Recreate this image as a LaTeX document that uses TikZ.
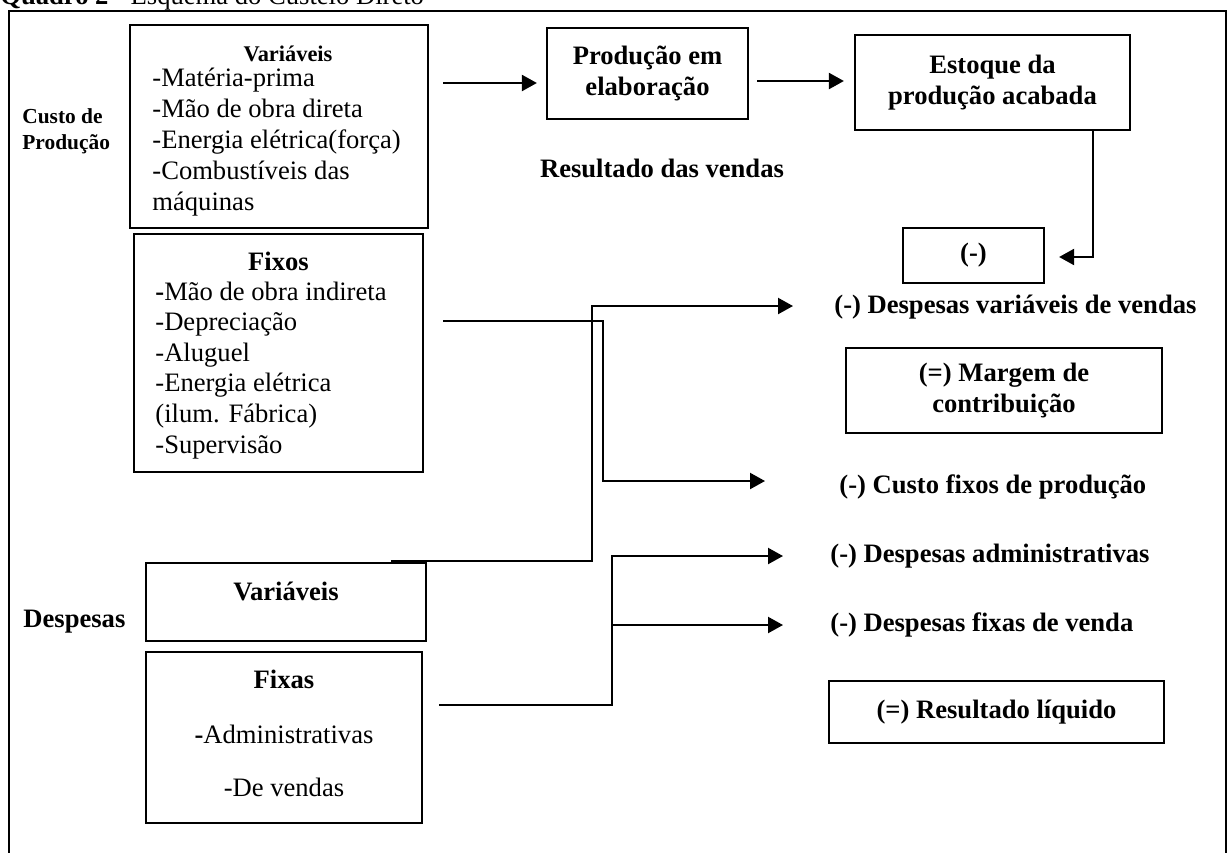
\documentclass[tikz,border=0pt]{standalone}
\usepackage{fontspec}
\setmainfont{Liberation Serif}
\usetikzlibrary{positioning, arrows.meta, calc}

\begin{document}
\begin{tikzpicture}[x=0.5pt, y=-0.5pt,
    cbox/.style={draw, line width=1.1pt, inner sep=0pt, align=center, font=\bfseries\fontsize{13.3}{15.5}\selectfont},
    txt/.style={inner sep=0pt, font=\fontsize{13.3}{15.5}\selectfont},
    btxt/.style={inner sep=0pt, font=\bfseries\fontsize{13.3}{15.5}\selectfont},
    flow/.style={line width=1.1pt, -{Triangle[length=7.5pt,width=8pt]}}]

    \useasboundingbox (0,0) rectangle (1231,852);

    % Title and frame
    \node[txt, anchor=base west] (titulo) at (0,4) {\textbf{Quadro 2} - Esquema do Custeio Direto};
    \draw[line width=1.4pt] (9,870) -- (9,11) -- (1226,11) -- (1226,870);

    % Left labels
    \node[btxt, font=\bfseries\fontsize{10.7}{13}\selectfont, align=left, anchor=west] (custo) at (22,131) {Custo de\\Produção};
    \node[btxt, anchor=west] (desp) at (23,622) {Despesas};

    % Custo de producao: variaveis
    \node[cbox, minimum width=149pt, minimum height=101.5pt] (varp) at (279,126.5) {};
    \node[btxt, font=\bfseries\fontsize{11.2}{13}\selectfont, anchor=base] (varpT) at (288,61) {Variáveis};
    \foreach \t [count=\k] in {-Matéria-prima, -Mão de obra direta, -Energia elétrica(força), -Combustíveis das, máquinas}
        \node[txt, anchor=base west] (varp\k) at (152, 55+31*\k) {\t};

    % Custo de producao: fixos
    \node[cbox, minimum width=144.5pt, minimum height=119pt] (fixos) at (278.5,353) {};
    \node[btxt, anchor=base] (fixosT) at (278.5,270) {Fixos};
    \foreach \t [count=\k] in {{\textbf{-}Mão de obra indireta}, -Depreciação, -Aluguel, -Energia elétrica, (ilum. Fábrica), -Supervisão}
        \node[txt, anchor=base west] (fixos\k) at (155, 269.4+30.6*\k) {\t};

    % Despesas
    \node[cbox, minimum width=140pt, minimum height=39pt] (dvar) at (286,602) {};
    \node[btxt, anchor=base] (dvarT) at (286,600) {Variáveis};
    \node[cbox, minimum width=138pt, minimum height=85.5pt] (fixas) at (284,737.5) {};
    \node[btxt, anchor=base] (fixasT) at (284,688) {Fixas};
    \node[txt, anchor=base] (fixas1) at (284,743) {\textbf{-}Administrativas};
    \node[txt, anchor=base] (fixas2) at (284,796) {-De vendas};

    % Producao e resultado
    \node[cbox, minimum width=100.5pt, minimum height=45.5pt] (prod) at (647.5,73.5) {Produção em\\elaboração};
    \node[cbox, minimum width=137.5pt, minimum height=47.5pt] (est) at (992.5,82.5) {Estoque da\\produção acabada};
    \node[btxt] (rv) at (662,168) {Resultado das vendas};
    \node[cbox, minimum width=70.5pt, minimum height=27.5pt] (menos) at (973.5,255.5) {(-)};
    \node[btxt, anchor=west] (dvv) at (834,307) {(-) Despesas variáveis de vendas};
    \node[cbox, minimum width=158pt, minimum height=42.5pt] (marg) at (1004,390.5) {(=) Margem de\\contribuição};
    \node[btxt, anchor=west] (cfp) at (839,487) {(-) Custo fixos de produção};
    \node[btxt, anchor=west] (dadm) at (830,556) {(-) Despesas administrativas};
    \node[btxt, anchor=west] (dfv) at (830,625) {(-) Despesas fixas de venda};
    \node[cbox, minimum width=167.5pt, minimum height=31pt] (res) at (996.5,712) {(=) Resultado líquido};

    % Connectors
    \draw[flow] ($(prod.west -| varp.east)+(14,9.5)$) -- ($(prod.west)+(-9,9.5)$);
    \draw[flow] ($(est.west -| prod.east)+(8,-1.5)$) -- ($(est.west)+(-10,-1.5)$);
    \draw[flow] ($(est.south)+(100.5,0)$) |- ($(menos.east)+(14,1.5)$);
    \draw[flow] ($(fixos.east)+(19,-32)$) -- ++(160,0) |- ($(cfp.west)+(-74,-6)$);
    \draw[flow] ($(dvar.north east)+(-36,-1)$) -- ++(201,0) |- ($(dvv.west)+(-41,-1)$);
    \draw[flow] ($(fixas.east)+(16,-32.5)$) -- ++(173,0) coordinate (jf) |- ($(dadm.west)+(-47,0)$);
    \draw[flow] (jf |- dfv.west) -- ($(dfv.west)+(-47,0)$);
\end{tikzpicture}
\end{document}
